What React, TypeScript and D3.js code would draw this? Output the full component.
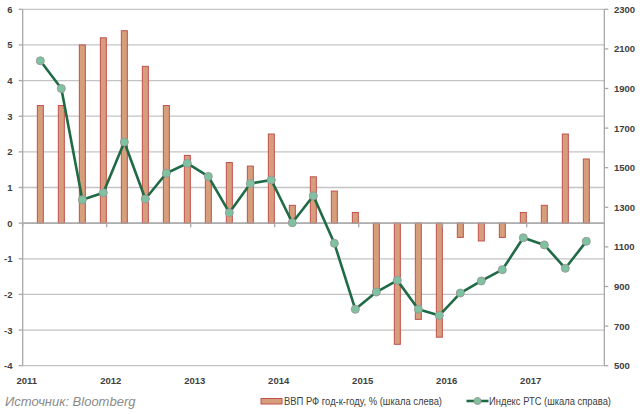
import React from "react";
import * as d3 from "d3";

const quarters: string[] = [
  "2011Q1","2011Q2","2011Q3","2011Q4",
  "2012Q1","2012Q2","2012Q3","2012Q4",
  "2013Q1","2013Q2","2013Q3","2013Q4",
  "2014Q1","2014Q2","2014Q3","2014Q4",
  "2015Q1","2015Q2","2015Q3","2015Q4",
  "2016Q1","2016Q2","2016Q3","2016Q4",
  "2017Q1","2017Q2","2017Q3",
];
const gdpValues: number[] = [
  3.3, 3.3, 5.0, 5.2, 5.4, 4.4, 3.3, 1.9,
  1.3, 1.7, 1.6, 2.5, 0.5, 1.3, 0.9, 0.3,
  -2.0, -3.4, -2.7, -3.2, -0.4, -0.5, -0.4, 0.3,
  0.5, 2.5, 1.8,
];
const rtsValues: number[] = [
  2040, 1900, 1338, 1374, 1630, 1342, 1472, 1522,
  1456, 1273, 1420, 1438, 1222, 1358, 1118, 785,
  872, 931, 785, 754, 867, 928, 985, 1146,
  1110, 992, 1128,
];
const years: number[] = [2011, 2012, 2013, 2014, 2015, 2016, 2017];
const leftTicks: number[] = [6, 5, 4, 3, 2, 1, 0, -1, -2, -3, -4];
const rightTicks: number[] = [2300, 2100, 1900, 1700, 1500, 1300, 1100, 900, 700, 500];
const gdpLabel = "ВВП РФ год-к-году, % (шкала слева)";
const rtsLabel = "Индекс РТС (шкала справа)";
const sourceLabel = "Источник: Bloomberg";

const W = 640;
const H = 414;
const plotLeft = 22.7;
const plotRight = 604.3;
const plotTop = 9.3;
const plotBottom = 365.7;

function quarterPos(q: string): number {
  const y = +q.slice(0, 4);
  const n = +q.slice(5);
  return y + (n - 1) / 4 + 0.21;
}

export default function App() {
  const x = d3.scaleLinear().domain([2011, 2017.924]).range([plotLeft, plotRight]);
  const yL = d3.scaleLinear().domain([-4, 6]).range([plotBottom, plotTop]);
  const yR = d3.scaleLinear().domain([500, 2300]).range([plotBottom, plotTop]);

  const pts = quarters.map((q, i) => ({ x: x(quarterPos(q)), y: yR(rtsValues[i]) }));
  const line = d3.line<{ x: number; y: number }>().x((d) => d.x).y((d) => d.y);

  const barW = 6;
  const font = "'Liberation Sans', Arial, sans-serif";
  const tickColor = "#404040";
  const gridColor = "#C4C4C4";
  const axisColor = "#A8A8A8";
  const barFill = "#D69E7A";
  const barStroke = "#C0504D";

  return (
    <svg width={W} height={H} style={{ position: "absolute", left: 0, top: 0, background: "#fff" }}>
      <rect x={0} y={0} width={W} height={H} fill="#fff" />
      {leftTicks.map((t) => (
        <line key={"g" + t} x1={plotLeft} x2={plotRight} y1={yL(t)} y2={yL(t)}
          stroke={t === 0 ? axisColor : gridColor} strokeWidth={1.3} />
      ))}
      {/* left axis */}
      <line x1={plotLeft} x2={plotLeft} y1={plotTop} y2={plotBottom} stroke={axisColor} strokeWidth={1.3} />
      {leftTicks.map((t) => (
        <g key={"lt" + t}>
          <line x1={plotLeft - 4} x2={plotLeft} y1={yL(t)} y2={yL(t)} stroke={axisColor} strokeWidth={1.3} />
          <text x={12.5} y={yL(t) + 3.5} textAnchor="end" fontFamily={font} fontSize={9.5}
            fontWeight="bold" fill={tickColor}>{t}</text>
        </g>
      ))}
      {/* right axis */}
      <line x1={plotRight} x2={plotRight} y1={plotTop} y2={plotBottom} stroke={axisColor} strokeWidth={1.3} />
      {rightTicks.map((t) => (
        <g key={"rt" + t}>
          <line x1={plotRight} x2={plotRight + 4} y1={yR(t)} y2={yR(t)} stroke={axisColor} strokeWidth={1.3} />
          <text x={614} y={yR(t) + 3.5} textAnchor="start" fontFamily={font} fontSize={9.5}
            fontWeight="bold" fill={tickColor}>{t}</text>
        </g>
      ))}
      {/* bars */}
      {quarters.map((q, i) => {
        const v = gdpValues[i];
        const y0 = yL(0);
        const y1 = yL(v);
        return (
          <rect key={"b" + q} x={x(quarterPos(q)) - barW / 2} y={Math.min(y0, y1)}
            width={barW} height={Math.abs(y1 - y0)} fill={barFill} stroke={barStroke} strokeWidth={1} />
        );
      })}
      {/* x axis at zero */}
      <line x1={plotLeft} x2={plotRight} y1={yL(0)} y2={yL(0)} stroke={axisColor} strokeWidth={1.3} />
      {years.map((yr) => (
        <g key={"x" + yr}>
          <line x1={x(yr)} x2={x(yr)} y1={yL(0)} y2={yL(0) + 4} stroke={axisColor} strokeWidth={1.3} />
          <text x={x(yr) + 4} y={384} textAnchor="middle" fontFamily={font} fontSize={9.5}
            fontWeight="bold" fill={tickColor}>{yr}</text>
        </g>
      ))}
      {/* line */}
      <path d={line(pts) || ""} fill="none" stroke="#1F6B45" strokeWidth={2.6} strokeLinejoin="round" />
      {pts.map((p, i) => (
        <circle key={"p" + i} cx={p.x} cy={p.y} r={4} fill="#7DC3A0" stroke="#9A9A9A" strokeWidth={1} />
      ))}
      {/* legend */}
      <rect x={261} y={398.5} width={21} height={5.5} fill={barFill} stroke={barStroke} strokeWidth={1} />
      <text x={284} y={405} fontFamily={font} fontSize={10} fill="#404040"
        textLength={158} lengthAdjust="spacingAndGlyphs">{gdpLabel}</text>
      <line x1={466.5} x2={488.5} y1={401} y2={401} stroke="#1F6B45" strokeWidth={2.6} />
      <circle cx={477.5} cy={401} r={3.5} fill="#7DC3A0" stroke="#9A9A9A" strokeWidth={1} />
      <text x={489} y={405} fontFamily={font} fontSize={10} fill="#404040"
        textLength={122} lengthAdjust="spacingAndGlyphs">{rtsLabel}</text>
      {/* source */}
      <text x={5} y={406} fontFamily={font} fontSize={13} fontStyle="italic" fill="#8A8A8A">{sourceLabel}</text>
    </svg>
  );
}
